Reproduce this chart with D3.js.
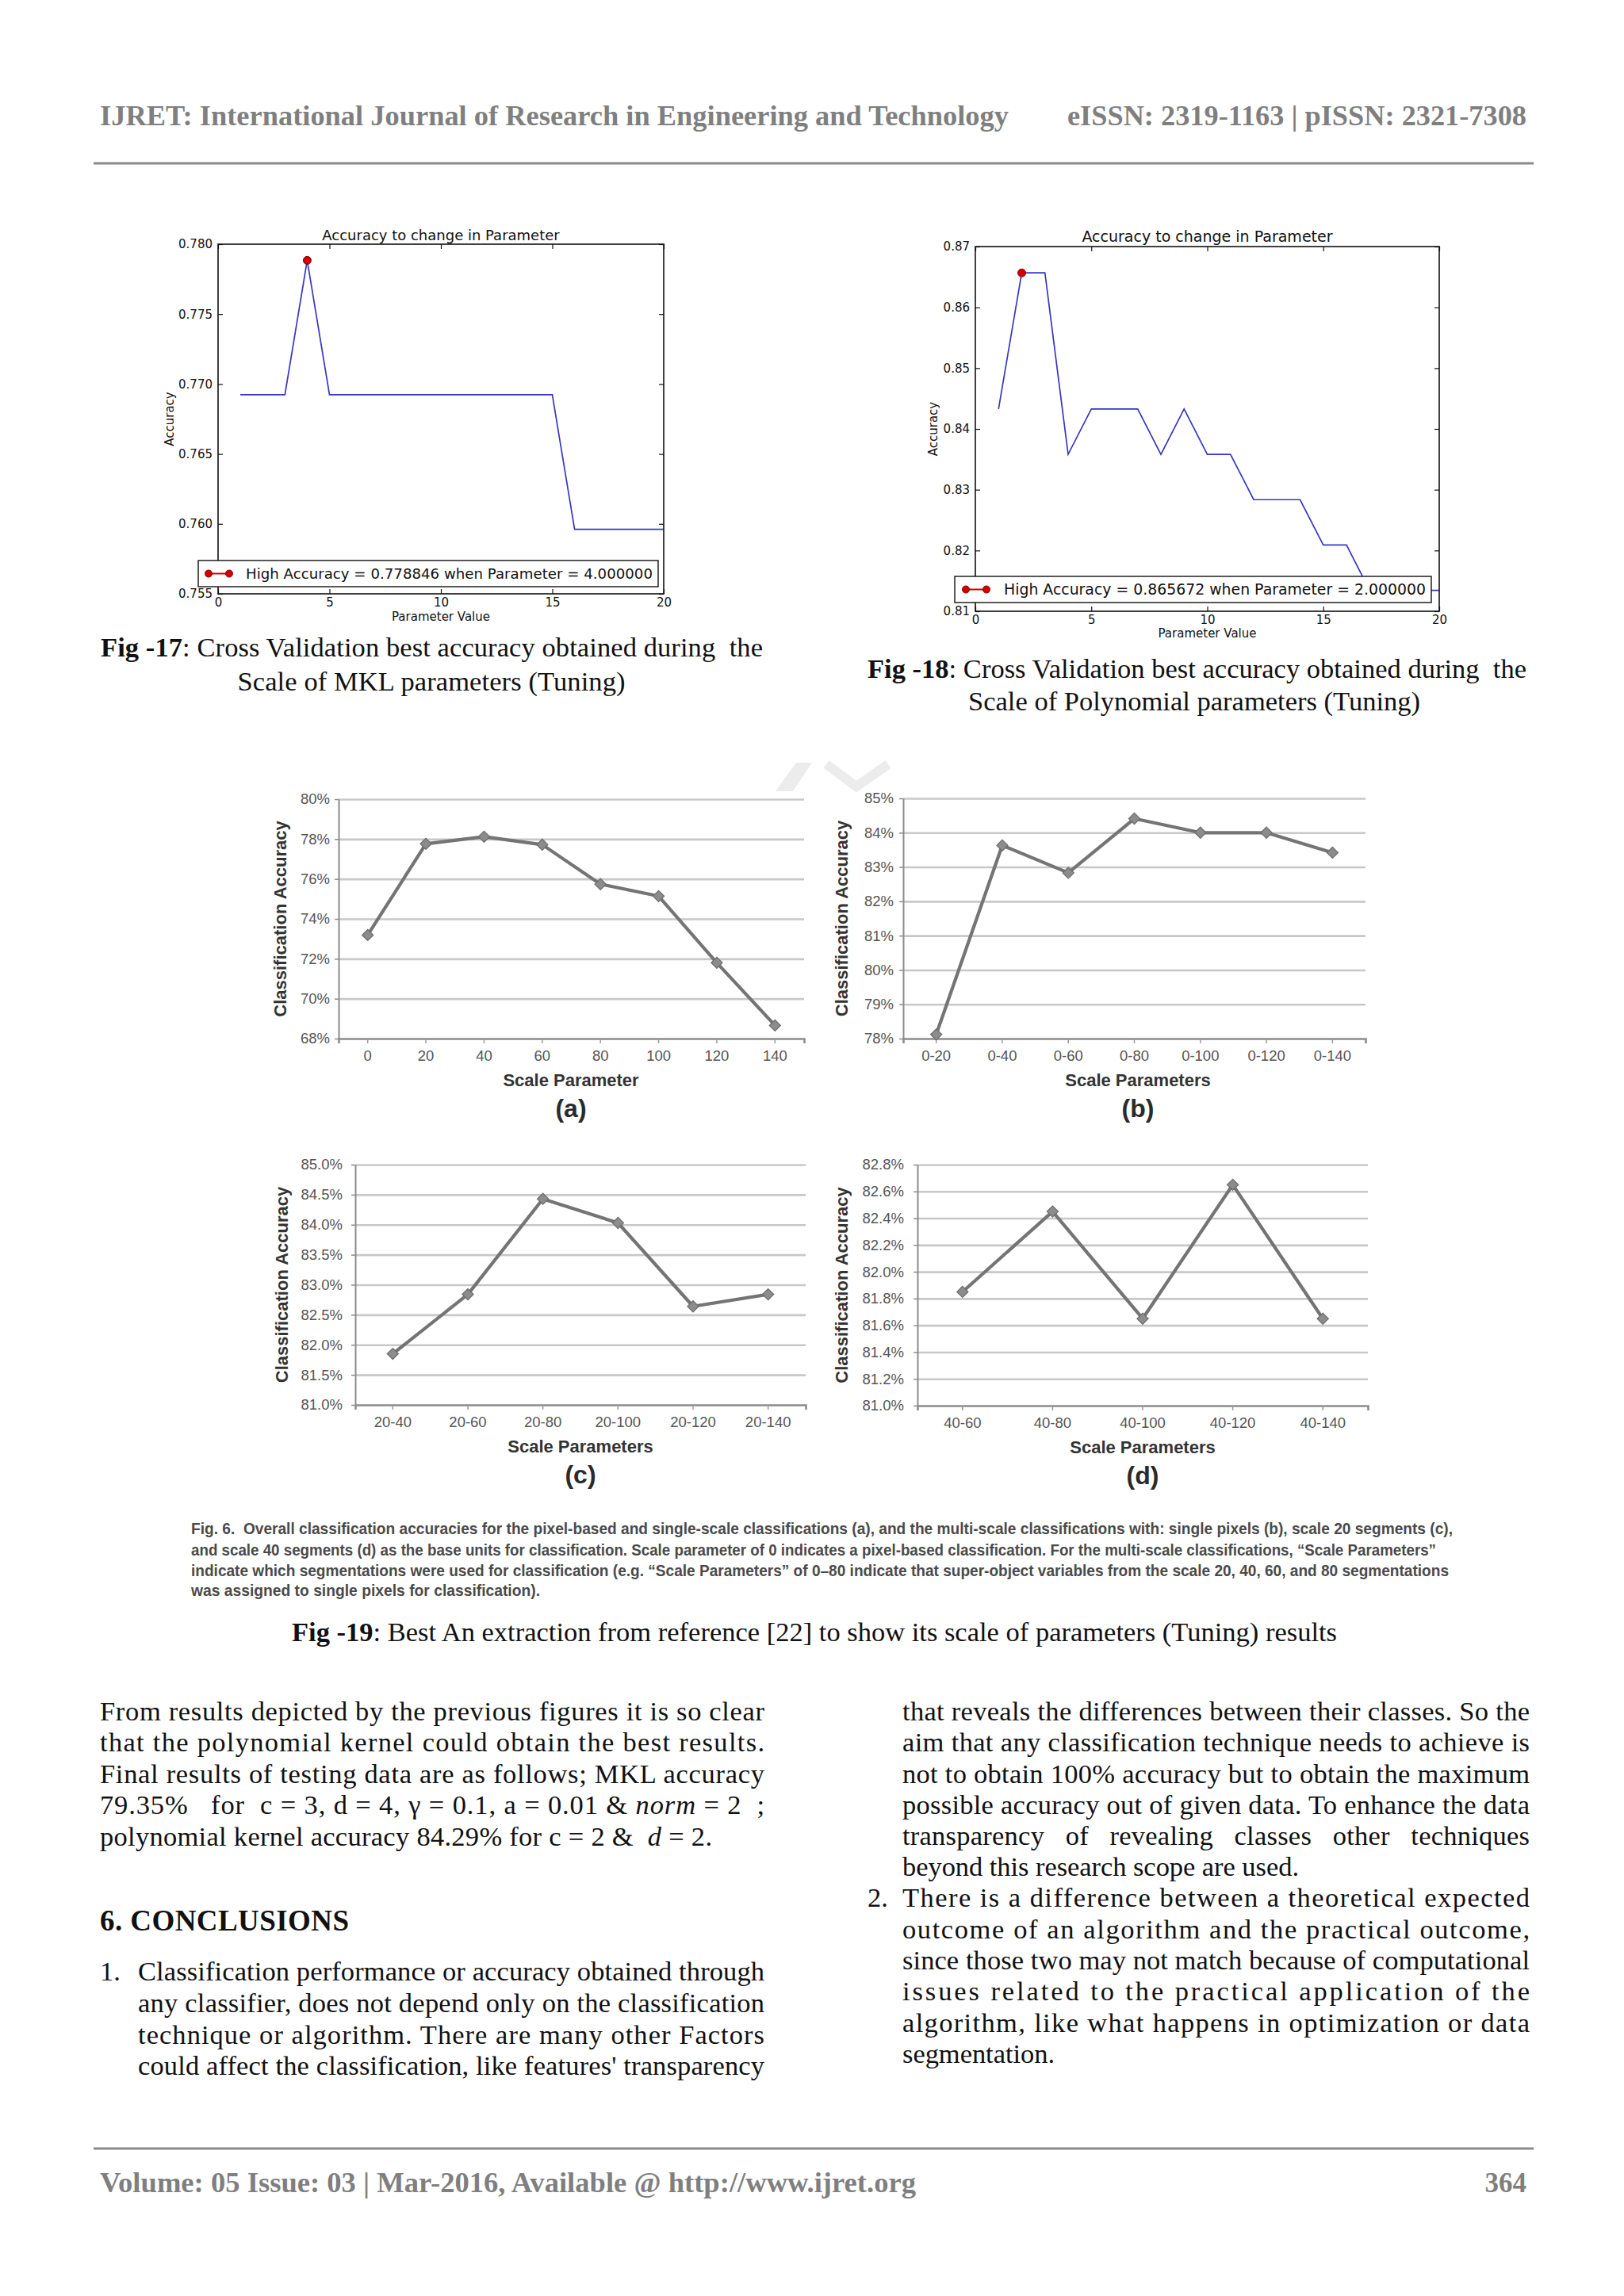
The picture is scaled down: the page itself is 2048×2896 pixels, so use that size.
<!DOCTYPE html>
<html>
<head>
<meta charset="utf-8">
<script src="https://cdn.jsdelivr.net/npm/d3@7"></script>
<style>
  body { margin: 0; background: #fff; }
  svg { display: block; }
  text { white-space: pre; }
</style>
</head>
<body>
<svg id="page" width="2048" height="2896"></svg>
<script>
// ---- Fig 17 / Fig 18: accuracy vs parameter (matplotlib style) ----
const paramX     = [1, 2, 3, 4, 5, 6, 7, 8, 9, 10, 11, 12, 13, 14, 15, 16, 17, 18, 19, 20];
const mklAcc     = [0.769231, 0.769231, 0.769231, 0.778846, 0.769231, 0.769231, 0.769231, 0.769231, 0.769231, 0.769231,
                    0.769231, 0.769231, 0.769231, 0.769231, 0.769231, 0.759615, 0.759615, 0.759615, 0.759615, 0.759615];
const polyAcc    = [0.843284, 0.865672, 0.865672, 0.835821, 0.843284, 0.843284, 0.843284, 0.835821, 0.843284, 0.835821,
                    0.835821, 0.828358, 0.828358, 0.828358, 0.820896, 0.820896, 0.813433, 0.813433, 0.813433, 0.813433];
const mklBest    = [4, 0.778846];
const polyBest   = [2, 0.865672];
const mklTicks   = [0.755, 0.760, 0.765, 0.770, 0.775, 0.780];
const polyTicks  = [0.81, 0.82, 0.83, 0.84, 0.85, 0.86, 0.87];
const paramTicks = [0, 5, 10, 15, 20];

// ---- Fig 19: four excel style panels ----
const catsA  = ["0", "20", "40", "60", "80", "100", "120", "140"];
const accA   = [0.7319, 0.7776, 0.7812, 0.7772, 0.7574, 0.7514, 0.7180, 0.6866];
const ticksA = [0.68, 0.70, 0.72, 0.74, 0.76, 0.78, 0.80];

const catsB  = ["0-20", "0-40", "0-60", "0-80", "0-100", "0-120", "0-140"];
const accB   = [0.7812, 0.8363, 0.8283, 0.8441, 0.8400, 0.8400, 0.8342];
const ticksB = [0.78, 0.79, 0.80, 0.81, 0.82, 0.83, 0.84, 0.85];

const catsC  = ["20-40", "20-60", "20-80", "20-100", "20-120", "20-140"];
const accC   = [0.8185, 0.8284, 0.8443, 0.8403, 0.8264, 0.8284];
const ticksC = [0.810, 0.815, 0.820, 0.825, 0.830, 0.835, 0.840, 0.845, 0.850];

const catsD  = ["40-60", "40-80", "40-100", "40-120", "40-140"];
const accD   = [0.8185, 0.8245, 0.8165, 0.8265, 0.8165];
const ticksD = [0.810, 0.812, 0.814, 0.816, 0.818, 0.820, 0.822, 0.824, 0.826, 0.828];

const SERIF = "'Liberation Serif','Times New Roman',serif";
const SANS  = "'Liberation Sans',Arial,sans-serif";
const MPL   = "'DejaVu Sans',sans-serif";

const svg = d3.select("#page");
svg.append("rect").attr("width", 2048).attr("height", 2896).attr("fill", "#fff");

// text helper; s is a string or a list of [piece, style] pairs
function put(x, y, s, o = {}) {
  const t = svg.append("text").attr("x", x).attr("y", y)
    .attr("font-family", o.font || SERIF).attr("font-size", o.size || 34.5)
    .attr("fill", o.fill || "#111").attr("text-anchor", o.anchor || "start");
  if (o.weight) t.attr("font-weight", o.weight);
  if (o.len) t.attr("textLength", o.len).attr("lengthAdjust", o.adjust || "spacing");
  if (o.rotate) t.attr("transform", `rotate(${o.rotate},${x},${y})`).attr("dy", "0.35em");
  (Array.isArray(s) ? s : [[s]]).forEach(([str, st]) => {
    const sp = t.append("tspan").text(str);
    if (st === "b") sp.attr("font-weight", "bold");
    if (st === "i") sp.attr("font-style", "italic");
  });
  return t;
}

// ---------------- page header / footer ----------------
const HEAD = {size: 35, weight: "bold", fill: "#7f7f7f", adjust: "spacingAndGlyphs"};
put(126, 158, "IJRET: International Journal of Research in Engineering and Technology", Object.assign({len: 1146}, HEAD));
put(1346, 158, "eISSN: 2319-1163 | pISSN: 2321-7308", Object.assign({len: 579}, HEAD));
svg.append("line").attr("x1", 118).attr("x2", 1934).attr("y1", 206).attr("y2", 206)
  .attr("stroke", "#8a8a8a").attr("stroke-width", 3);
svg.append("line").attr("x1", 118).attr("x2", 1934).attr("y1", 2710).attr("y2", 2710)
  .attr("stroke", "#8a8a8a").attr("stroke-width", 3);
put(126, 2765, "Volume: 05 Issue: 03 | Mar-2016, Available @ http://www.ijret.org", Object.assign({len: 1029}, HEAD));
put(1925, 2765, "364", {size: 35, weight: "bold", fill: "#7f7f7f", anchor: "end"});

// ---------------- matplotlib charts ----------------
function mplChart(c) {
  const g = svg.append("g");
  const x = d3.scaleLinear().domain([0, 20]).range([c.left, c.right]);
  const y = d3.scaleLinear().domain([c.ticks[0], c.ticks[c.ticks.length - 1]]).range([c.bottom, c.top]);

  g.append("path").datum(paramX.map((p, i) => [p, c.acc[i]]))
    .attr("d", d3.line().x(d => x(d[0])).y(d => y(d[1])))
    .attr("fill", "none").attr("stroke", "#3636c4").attr("stroke-width", 1.7);
  g.append("circle").attr("cx", x(c.best[0])).attr("cy", y(c.best[1])).attr("r", 5)
    .attr("fill", "#d00000").attr("stroke", "#8a0000").attr("stroke-width", 1);

  const style = sel => {
    sel.select(".domain").remove();
    sel.selectAll("line").attr("stroke", "#111").attr("stroke-width", 1.2);
    sel.selectAll("text").attr("font-family", MPL).attr("font-size", c.tick).attr("fill", "#111");
  };
  g.append("g").attr("transform", `translate(${c.left},0)`)
    .call(d3.axisLeft(y).tickValues(c.ticks).tickFormat(d3.format(c.fmt)).tickSize(-6).tickPadding(7)).call(style);
  g.append("g").attr("transform", `translate(${c.right},0)`)
    .call(d3.axisRight(y).tickValues(c.ticks).tickFormat("").tickSize(-6)).call(style);
  g.append("g").attr("transform", `translate(0,${c.bottom})`)
    .call(d3.axisBottom(x).tickValues(paramTicks).tickFormat(d3.format("d")).tickSize(-6).tickPadding(5)).call(style);
  g.append("g").attr("transform", `translate(0,${c.top})`)
    .call(d3.axisTop(x).tickValues(paramTicks).tickFormat("").tickSize(-6)).call(style);
  g.append("rect").attr("x", c.left).attr("y", c.top)
    .attr("width", c.right - c.left).attr("height", c.bottom - c.top)
    .attr("fill", "none").attr("stroke", "#111").attr("stroke-width", 1.6);

  // legend box
  const [lx0, ly0, lx1, ly1] = c.legend;
  const my = (ly0 + ly1) / 2;
  g.append("rect").attr("x", lx0).attr("y", ly0).attr("width", lx1 - lx0).attr("height", ly1 - ly0)
    .attr("fill", "#fff").attr("stroke", "#111").attr("stroke-width", 1.4);
  g.append("line").attr("x1", c.marks[0]).attr("x2", c.marks[1]).attr("y1", my).attr("y2", my)
    .attr("stroke", "#d00000").attr("stroke-width", 2);
  c.marks.forEach(m => g.append("circle").attr("cx", m).attr("cy", my).attr("r", 4.5)
    .attr("fill", "#d00000").attr("stroke", "#8a0000"));
  put(c.legText[0], my + 0.36 * c.big,
      `High Accuracy = ${c.best[1].toFixed(6)} when Parameter = ${c.best[0].toFixed(6)}`,
      {font: MPL, size: c.big, len: c.legText[1] - c.legText[0], adjust: "spacingAndGlyphs"});

  put((c.left + c.right) / 2, c.titleY, "Accuracy to change in Parameter",
      {font: MPL, size: c.big, anchor: "middle"});
  put((c.left + c.right) / 2, c.xlabY, "Parameter Value", {font: MPL, size: 15, anchor: "middle"});
  put(c.ylabX, (c.top + c.bottom) / 2, "Accuracy", {font: MPL, size: 15, anchor: "middle", rotate: -90});
}

mplChart({acc: mklAcc, best: mklBest, ticks: mklTicks, fmt: ".3f",
          left: 275, right: 837, top: 308, bottom: 749, tick: 15, big: 18,
          legend: [250, 707, 830, 740], marks: [263, 289], legText: [310, 823],
          titleY: 303, xlabY: 783, ylabX: 214});
mplChart({acc: polyAcc, best: polyBest, ticks: polyTicks, fmt: ".2f",
          left: 1230, right: 1815, top: 311, bottom: 771, tick: 15, big: 19,
          legend: [1204, 727, 1805, 760], marks: [1218, 1244], legText: [1266, 1798],
          titleY: 305, xlabY: 804, ylabX: 1177});

put(127, 828, [["Fig -17", "b"], [": Cross Validation best accuracy obtained during  the"]], {len: 835});
put(544, 871, "Scale of MKL parameters (Tuning)", {anchor: "middle", len: 489});
put(1094, 855, [["Fig -18", "b"], [": Cross Validation best accuracy obtained during  the"]], {len: 831});
put(1506, 896, "Scale of Polynomial parameters (Tuning)", {anchor: "middle", len: 570});

// ---------------- Fig 19 panels ----------------
// faint watermark behind the panels
svg.append("path").attr("d", "M978,998 L1004,962 L1024,962 L1000,998 Z").attr("fill", "#ececec");
svg.append("path").attr("d", "M1042,964 L1080,992 L1120,964").attr("fill", "none")
  .attr("stroke", "#ececec").attr("stroke-width", 12);

function excelPanel(p) {
  const g = svg.append("g");
  const y = d3.scaleLinear().domain([p.ticks[0], p.ticks[p.ticks.length - 1]]).range([p.bottom, p.top]);
  const x = d3.scaleBand().domain(p.cats).range([p.left, p.right]);
  const cx = c => x(c) + x.bandwidth() / 2;

  // horizontal gridlines
  g.append("g").attr("transform", `translate(${p.left},0)`)
    .call(d3.axisLeft(y).tickValues(p.ticks.slice(1)).tickSize(-(p.right - p.left)).tickFormat(""))
    .call(s => {
      s.select(".domain").remove();
      s.selectAll("line").attr("stroke", "#c8c8c8").attr("stroke-width", 2.6);
    });
  // value axis
  g.append("g").attr("transform", `translate(${p.left},0)`)
    .call(d3.axisLeft(y).tickValues(p.ticks).tickFormat(d3.format(p.fmt)).tickSize(5).tickSizeOuter(0).tickPadding(p.pad))
    .call(s => {
      s.select(".domain").attr("stroke", "#8c8c8c").attr("stroke-width", 2);
      s.selectAll(".tick line").attr("stroke", "#8c8c8c").attr("stroke-width", 1.5);
      s.selectAll("text").attr("font-family", SANS).attr("font-size", 18.5).attr("fill", "#555");
    });
  // category axis
  g.append("g").attr("transform", `translate(0,${p.bottom})`)
    .call(d3.axisBottom(x).tickSize(6).tickSizeOuter(6).tickPadding(9))
    .call(s => {
      s.select(".domain").attr("stroke", "#8c8c8c").attr("stroke-width", 2.6);
      s.selectAll(".tick line").attr("stroke", "#9a9a9a").attr("stroke-width", 1.5);
      s.selectAll("text").attr("font-family", SANS).attr("font-size", 18.5).attr("fill", "#555");
    });

  const pts = p.cats.map((c, i) => [c, p.vals[i]]);
  g.append("path").datum(pts)
    .attr("d", d3.line().x(d => cx(d[0])).y(d => y(d[1])))
    .attr("fill", "none").attr("stroke", "#747474").attr("stroke-width", 4.2).attr("stroke-linejoin", "round");
  g.selectAll("path.mk").data(pts).join("path").attr("class", "mk")
    .attr("transform", d => `translate(${cx(d[0])},${y(d[1])}) rotate(45)`)
    .attr("d", d3.symbol(d3.symbolSquare, 100))
    .attr("fill", "#8c8c8c").attr("stroke", "#6c6c6c").attr("stroke-width", 1.2);

  put(p.labX, p.bottom + 60, p.xlabel, {font: SANS, size: 22, weight: "bold", fill: "#333", anchor: "middle"});
  put(p.labX, p.bottom + 99, p.letter, {font: SANS, size: 32, weight: "bold", fill: "#2a2a2a", anchor: "middle"});
  put(p.ylabX, (p.top + p.bottom) / 2, "Classification Accuracy",
      {font: SANS, size: 22, weight: "bold", fill: "#333", anchor: "middle", rotate: -90});
}

excelPanel({cats: catsA, vals: accA, ticks: ticksA, fmt: ".0%", left: 427, right: 1014, top: 1008, bottom: 1310,
            pad: 6, xlabel: "Scale Parameter", letter: "(a)", labX: 720, ylabX: 353});
excelPanel({cats: catsB, vals: accB, ticks: ticksB, fmt: ".0%", left: 1139, right: 1722, top: 1007, bottom: 1310,
            pad: 7, xlabel: "Scale Parameters", letter: "(b)", labX: 1435, ylabX: 1061});
excelPanel({cats: catsC, vals: accC, ticks: ticksC, fmt: ".1%", left: 448, right: 1016, top: 1469, bottom: 1772,
            pad: 11, xlabel: "Scale Parameters", letter: "(c)", labX: 732, ylabX: 355});
excelPanel({cats: catsD, vals: accD, ticks: ticksD, fmt: ".1%", left: 1157, right: 1725, top: 1469, bottom: 1773,
            pad: 12, xlabel: "Scale Parameters", letter: "(d)", labX: 1441, ylabX: 1061});

// small source caption under the panels
const capOpt = {font: SANS, size: 21, weight: "bold", fill: "#4a4a4a", adjust: "spacingAndGlyphs"};
put(241, 1935, [["Fig. 6.", "b"], ["  Overall classification accuracies for the pixel-based and single-scale classifications (a), and the multi-scale classifications with: single pixels (b), scale 20 segments (c),"]],
    Object.assign({len: 1591}, capOpt));
put(241, 1962, "and scale 40 segments (d) as the base units for classification. Scale parameter of 0 indicates a pixel-based classification. For the multi-scale classifications, \u201cScale Parameters\u201d",
    Object.assign({len: 1570}, capOpt));
put(241, 1988, "indicate which segmentations were used for classification (e.g. \u201cScale Parameters\u201d of 0\u201380 indicate that super-object variables from the scale 20, 40, 60, and 80 segmentations",
    Object.assign({len: 1586}, capOpt));
put(241, 2013, "was assigned to single pixels for classification).", Object.assign({len: 440}, capOpt));

put(368, 2070, [["Fig -19", "b"], [": Best An extraction from reference [22] to show its scale of parameters (Tuning) results"]], {len: 1318});

// ---------------- body text ----------------
const L = 126, LW = 838, LI = 174, LIW = 790, R = 1138, RW = 791;
put(L, 2170, "From results depicted by the previous figures it is so clear", {len: LW});
put(L, 2209, "that the polynomial kernel could obtain the best results.", {len: LW});
put(L, 2249, "Final results of testing data are as follows; MKL accuracy", {len: LW});
put(L, 2288, [["79.35%   for  c = 3, d = 4, \u03b3 = 0.1, a = 0.01 & "], ["norm", "i"], [" = 2  ;"]], {len: LW});
put(L, 2328, [["polynomial kernel accuracy 84.29% for c = 2 &  "], ["d", "i"], [" = 2."]], {len: 772});

put(L, 2435, "6. CONCLUSIONS", {size: 37, weight: "bold", len: 314});
put(L, 2498, "1.", {});
put(LI, 2498, "Classification performance or accuracy obtained through", {len: LIW});
put(LI, 2538, "any classifier, does not depend only on the classification", {len: LIW});
put(LI, 2578, "technique or algorithm. There are many other Factors", {len: LIW});
put(LI, 2617, "could affect the classification, like features' transparency", {len: LIW});

put(R, 2170, "that reveals the differences between their classes. So the", {len: RW});
put(R, 2209, "aim that any classification technique needs to achieve is", {len: RW});
put(R, 2249, "not to obtain 100% accuracy but to obtain the maximum", {len: RW});
put(R, 2288, "possible accuracy out of given data. To enhance the data", {len: RW});
put(R, 2327, "transparency   of   revealing   classes   other   techniques", {len: RW});
put(R, 2366, "beyond this research scope are used.", {len: 500});
put(1094, 2405, "2.", {});
put(R, 2405, "There is a difference between a theoretical expected", {len: RW});
put(R, 2445, "outcome of an algorithm and the practical outcome,", {len: RW});
put(R, 2484, "since those two may not match because of computational", {len: RW});
put(R, 2523, "issues related to the practical application of the", {len: RW});
put(R, 2563, "algorithm, like what happens in optimization or data", {len: RW});
put(R, 2602, "segmentation.", {len: 192});
</script>
</body>
</html>
